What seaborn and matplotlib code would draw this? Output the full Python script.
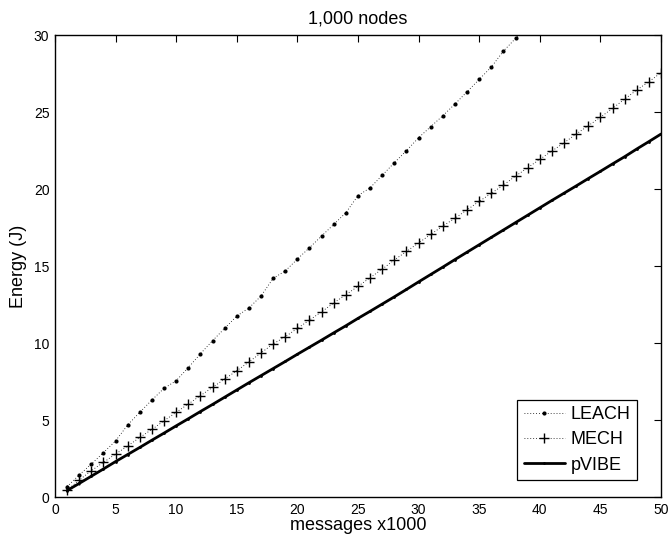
import matplotlib
matplotlib.use("Agg")
import matplotlib.pyplot as plt
import seaborn as sns
import numpy as np
import pandas as pd

messages = list(range(1, 51))
leach = [0.67, 1.43, 2.14, 2.88, 3.64, 4.68, 5.5, 6.3, 7.06, 7.55,
         8.4, 9.3, 10.15, 10.95, 11.75, 12.27, 13.05, 14.2, 14.68, 15.45,
         16.19, 16.95, 17.7, 18.46, 19.57, 20.08, 20.89, 21.71, 22.49, 23.33,
         24.05, 24.76, 25.52, 26.32, 27.12, 27.92, 28.96, 29.78, 30.6, 31.4,
         32.2, 33.0, 33.8, 34.6, 35.4, 36.2, 37.0, 37.8, 38.6, 39.4]
mech = [0.45, 1.1, 1.71, 2.25, 2.79, 3.31, 3.87, 4.39, 4.95, 5.5,
        6.04, 6.58, 7.12, 7.66, 8.2, 8.77, 9.36, 9.94, 10.41, 10.95,
        11.49, 12.03, 12.6, 13.14, 13.68, 14.24, 14.8, 15.39, 15.95, 16.5,
        17.05, 17.6, 18.1, 18.65, 19.2, 19.72, 20.26, 20.84, 21.38, 21.93,
        22.47, 23.0, 23.57, 24.11, 24.66, 25.24, 25.84, 26.43, 26.97, 27.55]
pvibe = [0.42, 0.88, 1.35, 1.82, 2.3, 2.76, 3.22, 3.69, 4.15, 4.62,
         5.08, 5.55, 6.01, 6.48, 6.95, 7.42, 7.88, 8.34, 8.8, 9.27,
         9.73, 10.19, 10.66, 11.12, 11.6, 12.06, 12.53, 13.0, 13.48, 13.97,
         14.45, 14.93, 15.42, 15.9, 16.38, 16.86, 17.34, 17.82, 18.3, 18.78,
         19.26, 19.73, 20.2, 20.68, 21.15, 21.63, 22.1, 22.6, 23.08, 23.57]

title = "1,000 nodes"
xlabel = "messages x1000"
ylabel = "Energy (J)"
xticks = [0, 5, 10, 15, 20, 25, 30, 35, 40, 45, 50]
yticks = [0, 5, 10, 15, 20, 25, 30]

sns.set_style("white")
plt.rcParams['font.family'] = ['Liberation Sans', 'DejaVu Sans']
plt.rcParams['text.color'] = 'black'
plt.rcParams['axes.labelcolor'] = 'black'
plt.rcParams['xtick.color'] = 'black'
plt.rcParams['ytick.color'] = 'black'

fig = plt.figure(figsize=(6.7, 5.43), dpi=100)
ax = fig.add_axes([0.082, 0.0847, 0.9046, 0.8508])

dotted = (0, (1, 2.5))
sns.lineplot(x=messages, y=leach, ax=ax, color='black', linestyle=dotted,
             linewidth=0.6, marker='o', markersize=3.0, markeredgewidth=0,
             markeredgecolor='black', markerfacecolor='black', label='LEACH')
sns.lineplot(x=messages, y=mech, ax=ax, color='black', linestyle=dotted,
             linewidth=0.6, marker='+', markersize=7, markeredgewidth=1.0,
             markeredgecolor='black', label='MECH')
sns.lineplot(x=messages, y=pvibe, ax=ax, color='black', linestyle='-',
             linewidth=2.0, marker='o', markersize=2.0, markeredgewidth=0,
             markeredgecolor='black', markerfacecolor='black', label='pVIBE')

ax.set_xlim(0, 50)
ax.set_ylim(0, 30)
ax.set_xticks(xticks)
ax.set_yticks(yticks)
ax.tick_params(direction='in', length=5, width=0.8, top=True, right=True,
               labelsize=10, pad=4, colors='black')
for s in ax.spines.values():
    s.set_visible(True)
    s.set_color('black')
    s.set_linewidth(1.0)
ax.set_title(title, fontsize=13, pad=8, color='black')
ax.set_xlabel(xlabel, fontsize=13, labelpad=0, color='black')
ax.set_ylabel(ylabel, fontsize=13, labelpad=5, color='black')

leg = ax.legend(loc='lower right', bbox_to_anchor=(0.960, 0.037),
                fontsize=13, frameon=True, fancybox=False,
                edgecolor='black', framealpha=1, borderaxespad=0,
                handlelength=2.3, handletextpad=0.3, labelspacing=0.45,
                borderpad=0.35)
leg.get_frame().set_linewidth(0.9)
for t in leg.get_texts():
    t.set_color('black')

fig.savefig("out.png", dpi=100)
